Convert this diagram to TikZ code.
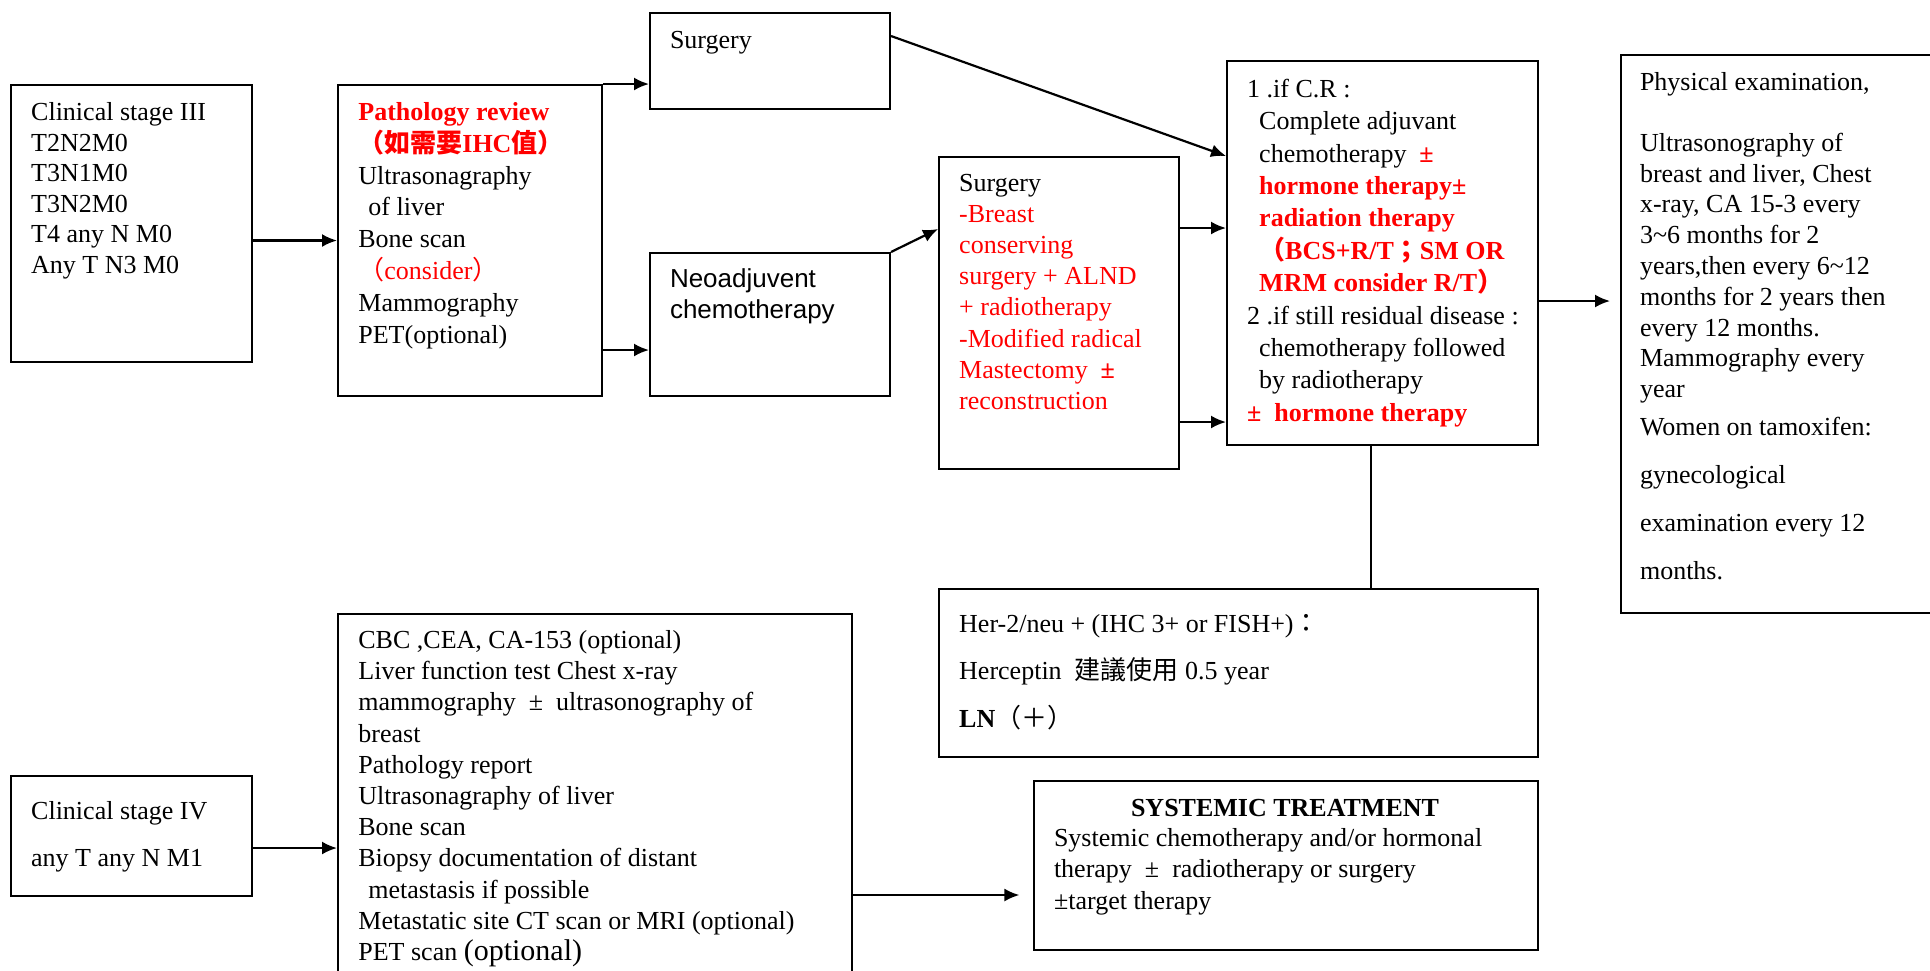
\documentclass[tikz,border=0pt]{standalone}
\usepackage{fontspec}
\setmainfont{Liberation Serif}
\newfontfamily\arialfont{Liberation Sans}
\newfontfamily\cjk{Noto Sans CJK TC}
\usepackage{xcolor}
\usetikzlibrary{arrows.meta,positioning}
\newcommand{\redbf}[1]{\textcolor{red}{\bfseries #1}}
\tikzset{
    %Define standard arrow tip
    >={Latex[length=7.5pt,width=6.5pt]},
    %Define style for boxes
    casebox/.style={
           rectangle,
           draw=black, line width=1pt,
           anchor=north west,
           inner sep=0pt},
    casetext/.style={
           anchor=north west,
           align=left,
           inner sep=0pt,
           font=\fontsize{13}{15.6}\selectfont},
    % Define arrow style
    flow/.style={
           ->,
           line width=1.1pt}
}
\begin{document}
\begin{tikzpicture}[x=1pt,y=-1pt]
\useasboundingbox (0,0) rectangle (965,485);
\clip (0,0) rectangle (965,485);

 %boxes
\node[casebox, minimum width=120.5pt, minimum height=138.5pt](st3) at (5,42) {};
\node[casebox, minimum width=132pt, minimum height=155.5pt](path) at (168.5,42) {};
\node[casebox, minimum width=120pt, minimum height=48pt](surg1) at (324.5,6) {};
\node[casebox, minimum width=120pt, minimum height=71.5pt](neo) at (324.5,126) {};
\node[casebox, minimum width=120pt, minimum height=156pt](surg2) at (469,78) {};
\node[casebox, minimum width=155.5pt, minimum height=192pt](cr) at (613,30) {};
\node[casebox, minimum width=180pt, minimum height=279pt](phys) at (810,27) {};
\node[casebox, minimum width=299.5pt, minimum height=84pt](her2) at (469,294) {};
\node[casebox, minimum width=120.5pt, minimum height=60pt](st4) at (5,387.5) {};
\node[casebox, minimum width=257pt, minimum height=200pt](workup) at (168.5,306.5) {};
\node[casebox, minimum width=252pt, minimum height=84.5pt](sys) at (516.5,390) {};

 %texts
\node[casetext, font=\fontsize{13}{15.3}\selectfont](st3txt) at (15.4,51)
  {Clinical stage III\\T2N2M0\\T3N1M0\\T3N2M0\\T4 any N M0\\Any T N3 M0};
\node[casetext, font=\fontsize{13}{15.9}\selectfont](pathtxt) at (179,51)
  {\redbf{Pathology review}\\
   \redbf{{\cjk （如需要}IHC{\cjk 值）}}\\
   Ultrasonagraphy\\
   \hspace*{5pt}of liver\\
   Bone scan\\
   \textcolor{red}{{\cjk （}consider{\cjk ）}}\\
   Mammography\\
   PET(optional)};
\node[casetext](surg1txt) at (334.8,15.3) {Surgery};
\node[casetext, font=\arialfont\fontsize{13}{15.4}\selectfont](neotxt) at (334.8,134)
  {Neoadjuvent\\chemotherapy};
\node[casetext](surg2txt) at (479.4,86.7)
  {Surgery\\
   \textcolor{red}{-Breast}\\
   \textcolor{red}{conserving}\\
   \textcolor{red}{surgery + ALND}\\
   \textcolor{red}{+ radiotherapy}\\
   \textcolor{red}{-Modified radical}\\
   \textcolor{red}{Mastectomy \ \textbf{±}}\\
   \textcolor{red}{reconstruction}};
\node[casetext, font=\fontsize{13}{16.2}\selectfont](crtxt) at (623.4,39.3)
  {1 .if C.R :\\
   \hspace*{6pt}Complete adjuvant\\
   \hspace*{6pt}chemotherapy \ \redbf{±}\\
   \hspace*{6pt}\redbf{hormone therapy±}\\
   \hspace*{6pt}\redbf{radiation therapy}\\
   \hspace*{6pt}\redbf{{\cjk （}BCS+R/T{\cjk ；}SM OR}\\
   \hspace*{6pt}\redbf{MRM consider R/T{\cjk ）}}\\
   2 .if still residual disease :\\
   \hspace*{6pt}chemotherapy followed\\
   \hspace*{6pt}by radiotherapy\\
   \redbf{± \ hormone therapy}};
\node[casetext, font=\fontsize{13}{15.4}\selectfont](phystxt) at (819.8,36.2)
  {Physical examination,\\[14.8pt]
   Ultrasonography of\\
   breast and liver, Chest\\
   x-ray, CA 15-3 every\\
   3\textasciitilde 6 months for 2\\
   years,then every 6\textasciitilde 12\\
   months for 2 years then\\
   every 12 months.\\
   Mammography every\\
   year\\[3.7pt]
   Women on tamoxifen:\\[8.6pt]
   gynecological\\[8.6pt]
   examination every 12\\[8.6pt]
   months.};
\node[casetext, font=\fontsize{13}{23.7}\selectfont](her2txt) at (479.4,307)
  {Her-2/neu + (IHC 3+ or FISH+){\cjk ：}\\
   Herceptin \ {\cjk 建議使用} 0.5 year\\
   \textbf{LN}{\cjk （＋）}};
\node[casetext, font=\fontsize{13}{23.4}\selectfont](st4txt) at (15.4,400.6)
  {Clinical stage IV\\any T any N M1};
\node[casetext, font=\fontsize{13}{15.6}\selectfont](workuptxt) at (179,315)
  {CBC ,CEA, CA-153 (optional)\\
   Liver function test Chest x-ray\\
   mammography \ ± \ ultrasonography of\\
   breast\\
   Pathology report\\
   Ultrasonagraphy of liver\\
   Bone scan\\
   Biopsy documentation of distant\\
   \hspace*{5pt}metastasis if possible\\
   Metastatic site CT scan or MRI (optional)\\
   PET scan {\fontsize{15}{15}\selectfont (optional)}};
\node[casetext, anchor=north, font=\bfseries\fontsize{13}{15.7}\selectfont](systitle) at (642.5,399.3)
  {SYSTEMIC TREATMENT};
\node[casetext, font=\fontsize{13}{15.7}\selectfont](systxt) at (526.8,414)
  {Systemic chemotherapy and/or hormonal\\
   therapy \ ± \ radiotherapy or surgery\\
   ±target therapy};

 %arrows
\path[flow]
    (st3.east |- path.west) edge (path.west)
    (path.north east) edge (path.north east -| surg1.west)
    ([yshift=23.5pt]path.south east) edge ([yshift=23.5pt]path.south east -| neo.west)
    ([yshift=-12pt]surg1.north east) edge ([yshift=-48pt]cr.north west)
    (neo.north east) edge ([yshift=-36.5pt]surg2.north west)
    ([yshift=-36pt]surg2.north east) edge ([yshift=-36pt]surg2.north east -| cr.west)
    ([yshift=24pt]surg2.south east) edge ([yshift=24pt]surg2.south east -| cr.west)
    ([yshift=72.5pt]cr.south east) edge[shorten >=5pt] ([yshift=72.5pt]cr.south east -| phys.west)
    ([yshift=-6pt]st4.east) edge ([yshift=-6pt]st4.east -| workup.west)
    ([yshift=-141pt]workup.north east) edge[shorten >=6.8pt] ([yshift=-141pt]workup.north east -| sys.west);
\draw[line width=1pt] ([xshift=-6pt]cr.south) -- ([xshift=-6pt]cr.south |- her2.north);

\end{tikzpicture}
\end{document}
